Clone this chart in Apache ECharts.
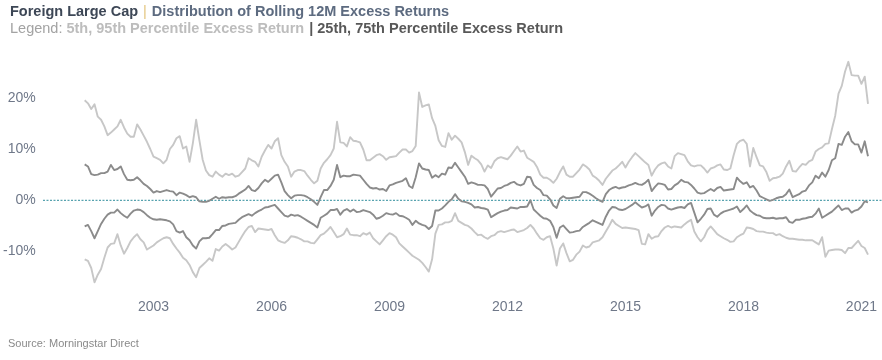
<!DOCTYPE html>
<html>
<head>
<meta charset="utf-8">
<script src="https://cdn.jsdelivr.net/npm/echarts@6/dist/echarts.min.js"></script>
<style>
html,body{margin:0;padding:0;background:#fff;}
#chart{width:882px;height:360px;}
</style>
</head>
<body>
<div id="chart"></div>
<script>
// Monthly observations, starting April 2001
const startYear = 2001;
const startMonth = 4;
const pointCount = 240;
const months = Array.from({length: pointCount}, (_, k) => {
  const m = startMonth - 1 + k;
  return (startYear + Math.floor(m / 12)) + '-' + String(m % 12 + 1).padStart(2, '0');
});
const yearTicks = ['2003', '2006', '2009', '2012', '2015', '2018', '2021'];
const yTicks = [-10, 0, 10, 20];

// 95th percentile excess return (%)
const p95 = [
19.5,18.9,17.8,18.7,16.3,15.7,14.4,12.7,13.2,13.8,
14.4,15.7,14.2,13.0,12.4,12.4,14.8,13.8,12.6,11.4,
10.0,8.5,8.2,7.9,7.2,7.9,10.0,10.8,12.1,12.5,
10.1,10.5,7.5,11.1,15.7,11.7,7.9,5.8,4.9,4.6,
5.6,5.0,4.6,5.2,4.9,5.2,4.6,4.8,5.5,6.2,
8.2,7.8,7.5,6.6,8.5,9.7,10.8,10.1,11.5,12.1,
8.8,7.5,6.6,4.6,5.6,5.9,5.9,5.7,4.8,4.0,
3.3,3.8,6.2,7.3,8.0,8.8,10.1,15.3,11.3,11.2,
10.5,12.3,11.6,11.5,11.3,9.9,7.8,7.8,8.3,8.8,
9.0,8.6,7.9,8.4,8.5,8.6,9.3,9.9,9.9,9.3,
9.6,10.6,21.0,18.2,18.5,18.7,16.0,14.5,11.7,10.6,
10.4,13.1,11.8,12.6,12.0,11.3,9.4,6.9,8.7,8.2,
7.8,7.0,5.6,6.8,6.3,7.6,8.2,8.4,8.2,8.0,
8.7,9.6,10.5,9.5,9.7,8.3,7.9,7.5,6.5,5.0,
4.4,4.4,4.0,3.4,4.2,5.5,6.6,5.0,4.6,4.6,
5.3,6.0,7.0,6.6,6.0,4.8,4.4,3.8,3.0,4.2,
5.0,5.8,6.2,6.8,7.5,6.4,7.5,8.4,9.2,8.6,
8.0,7.4,6.9,4.8,6.0,6.8,7.2,7.4,6.6,6.2,
8.6,9.2,9.0,8.8,7.6,6.8,6.6,6.8,6.8,6.2,
5.4,6.2,6.4,6.8,7.0,6.0,5.9,6.2,8.8,11.0,
11.6,11.8,11.0,6.6,10.2,8.4,6.8,6.6,5.5,3.8,
4.3,4.4,4.6,5.2,6.6,7.7,5.7,5.6,6.4,7.1,
6.9,7.6,7.9,9.5,10.0,10.3,11.0,11.1,13.9,16.5,
20.8,22.3,25.1,27.0,24.4,24.3,24.3,22.7,24.1,18.8
];

// 75th percentile excess return (%)
const p75 = [
7.0,6.6,5.1,4.9,5.0,5.3,5.3,5.6,6.9,5.9,
6.1,6.6,5.1,4.0,3.9,4.0,4.5,3.9,3.2,2.8,
2.2,1.5,1.8,1.6,1.8,2.0,1.8,1.7,1.0,1.5,
1.3,1.0,0.6,0.8,0.6,-0.2,-0.3,-0.3,-0.1,0.3,
0.7,0.3,0.6,0.5,0.6,0.6,0.8,1.3,1.7,2.1,
2.8,2.0,1.8,2.4,3.3,4.0,3.6,4.2,4.8,5.0,
3.5,1.8,1.0,0.4,0.9,1.0,1.0,0.9,0.6,0.2,
-0.3,-0.9,0.6,2.0,2.0,2.8,4.0,6.9,4.5,4.8,
4.7,4.7,5.0,4.9,4.8,4.0,3.2,2.5,2.3,2.4,
2.1,2.2,1.8,2.9,3.1,3.4,3.6,3.8,4.3,2.8,
2.4,4.5,7.2,6.2,6.0,5.9,4.4,4.9,4.5,5.2,
5.0,6.4,6.3,7.3,6.4,5.5,4.6,3.2,3.5,3.3,
3.0,3.0,2.9,2.2,0.7,1.5,2.3,2.4,2.8,3.0,
3.4,3.6,3.1,2.9,3.2,4.6,4.5,3.0,2.4,2.0,
1.0,0.9,0.2,-1.0,-1.5,0.3,0.8,0.4,0.4,0.5,
0.6,0.7,1.6,1.6,1.3,0.9,0.4,0.0,-0.3,1.2,
2.0,2.4,2.6,2.3,2.5,2.6,2.9,3.1,3.4,3.1,
3.0,3.4,4.0,1.8,2.6,3.3,3.2,3.0,2.1,2.2,
2.9,3.3,4.0,3.6,3.5,3.0,2.3,1.5,1.3,1.4,
1.8,2.2,1.8,2.4,2.6,1.9,2.0,2.1,2.2,4.4,
3.7,3.2,3.5,2.5,2.8,1.9,0.8,0.5,0.2,-0.1,
0.1,0.4,0.6,0.7,1.2,2.1,0.6,0.9,1.2,1.7,
1.9,2.9,3.5,4.8,4.3,5.4,4.6,5.9,7.8,8.2,
11.0,10.8,12.4,13.3,11.5,10.9,10.9,9.3,11.5,8.6
];

// 25th percentile excess return (%)
const p25 = [
-5.1,-4.8,-6.0,-7.4,-6.0,-4.6,-3.6,-2.8,-2.4,-2.4,
-1.8,-2.5,-3.0,-3.4,-2.6,-2.0,-1.8,-1.9,-2.3,-2.9,
-3.4,-3.7,-3.8,-3.7,-3.8,-3.9,-4.1,-4.7,-6.0,-6.3,
-6.0,-7.2,-7.8,-8.8,-9.4,-8.0,-7.4,-7.4,-7.3,-6.6,
-5.8,-5.8,-5.0,-4.9,-4.6,-4.5,-4.4,-3.8,-3.3,-3.0,
-2.7,-3.0,-2.5,-2.1,-1.8,-1.4,-1.3,-1.1,-0.9,-1.6,
-2.3,-3.0,-3.2,-2.8,-3.0,-2.9,-3.2,-3.6,-4.0,-4.4,
-4.8,-5.3,-3.4,-3.0,-2.6,-1.9,-1.9,-1.7,-2.8,-2.0,
-1.7,-2.2,-1.8,-2.3,-2.2,-1.9,-2.1,-2.3,-2.8,-3.6,
-3.4,-3.0,-2.5,-2.7,-2.8,-2.5,-3.0,-3.1,-3.4,-3.8,
-4.8,-4.0,-4.5,-4.8,-5.0,-5.6,-5.0,-2.0,-2.0,-1.6,
-1.0,-0.3,0.2,1.2,0.3,-0.2,-0.3,-0.5,-0.8,-1.4,
-1.3,-1.5,-1.6,-1.8,-3.3,-2.9,-2.5,-2.2,-2.0,-1.9,
-1.4,-1.5,-1.6,-1.3,-1.3,-1.2,0.0,-1.8,-2.4,-3.0,
-3.5,-3.6,-4.0,-5.2,-7.3,-5.3,-4.9,-5.6,-6.3,-6.2,
-6.0,-5.9,-5.2,-4.8,-4.4,-3.9,-4.2,-4.5,-4.8,-3.2,
-2.0,-1.3,-1.4,-1.8,-1.9,-1.7,-1.3,-0.9,-0.4,-0.9,
-1.4,-1.2,-0.8,-3.0,-2.0,-1.3,-0.9,-1.0,-1.6,-1.8,
-1.6,-1.4,-1.3,-1.5,-0.8,-0.5,-2.4,-4.3,-3.6,-2.8,
-1.7,-1.6,-2.8,-3.2,-2.6,-2.2,-2.0,-1.8,-1.6,-1.2,
-2.3,-1.7,-1.0,-2.0,-2.5,-2.9,-3.0,-3.4,-3.5,-3.5,
-3.4,-3.6,-3.5,-3.5,-3.3,-4.2,-4.4,-3.8,-3.8,-3.6,
-3.5,-3.3,-3.2,-2.6,-1.6,-3.4,-3.0,-2.6,-2.2,-1.6,
-1.0,-1.9,-1.6,-1.6,-2.4,-2.0,-1.8,-1.2,-0.2,-0.4
];

// 5th percentile excess return (%)
const p5 = [
-11.5,-11.8,-13.2,-16.0,-14.5,-13.4,-11.2,-9.2,-8.5,-8.4,
-6.6,-8.8,-10.4,-9.3,-8.0,-7.2,-6.6,-7.6,-8.2,-9.6,
-9.2,-8.8,-8.2,-7.8,-7.4,-7.2,-7.4,-8.5,-9.4,-10.2,
-11.2,-11.7,-12.6,-14.0,-15.0,-13.2,-12.6,-12.0,-11.3,-11.8,
-9.5,-9.8,-9.0,-8.5,-9.0,-9.6,-9.2,-8.1,-7.0,-6.0,
-5.2,-5.0,-6.2,-5.5,-5.6,-5.7,-5.8,-5.6,-6.8,-7.8,
-8.1,-8.3,-7.8,-7.0,-7.1,-7.3,-7.6,-8.0,-8.0,-8.3,
-8.4,-7.6,-6.8,-6.5,-5.9,-5.2,-6.2,-7.2,-7.0,-6.6,
-5.5,-6.7,-6.8,-6.8,-7.0,-6.4,-6.7,-6.3,-7.4,-8.0,
-8.6,-7.8,-7.0,-6.4,-6.7,-7.2,-8.4,-9.0,-9.6,-10.2,
-10.8,-11.2,-11.6,-12.2,-13.0,-13.9,-11.5,-6.5,-4.8,-4.7,
-4.3,-4.3,-4.0,-2.5,-4.0,-4.4,-4.8,-5.0,-5.5,-6.2,
-6.8,-6.7,-7.2,-7.5,-7.0,-6.8,-6.2,-6.0,-6.2,-6.0,
-5.8,-5.7,-6.2,-6.0,-5.8,-5.4,-4.8,-5.5,-6.5,-7.4,
-7.7,-7.2,-7.0,-9.4,-12.7,-9.4,-8.4,-10.3,-11.9,-11.6,
-10.6,-10.0,-8.8,-9.2,-9.0,-8.2,-8.0,-7.8,-7.2,-6.1,
-5.0,-3.8,-4.6,-5.0,-5.4,-5.3,-5.4,-5.5,-5.6,-5.8,
-8.5,-8.6,-6.6,-7.5,-7.1,-7.0,-6.0,-5.3,-5.0,-5.3,
-5.1,-5.2,-5.3,-4.7,-4.2,-3.8,-6.1,-7.2,-8.0,-7.2,
-5.8,-5.1,-5.8,-6.6,-7.0,-7.4,-7.7,-8.1,-8.0,-7.2,
-6.8,-6.5,-5.3,-5.4,-5.6,-6.0,-6.1,-6.1,-6.3,-6.4,
-6.4,-6.8,-6.6,-7.0,-7.3,-7.5,-7.5,-7.6,-7.7,-7.7,
-7.8,-7.8,-7.8,-8.2,-8.6,-7.2,-11.0,-9.8,-9.7,-9.6,
-9.6,-9.7,-10.3,-9.3,-9.3,-8.6,-7.9,-8.9,-9.3,-10.6
];

const zeroLine = [[0, 0], [1, 0]];

const lightColor = '#c7c7c7';
const darkColor = '#8b8b8b';
const labelColor = '#6f7889';
const fontFamily = '"Liberation Sans", Arial, sans-serif';

const chart = echarts.init(document.getElementById('chart'), null, {renderer: 'canvas'});

function lineSeries(name, data, color, z) {
  return {
    name: name, type: 'line', data: data, xAxisIndex: 0, yAxisIndex: 0,
    showSymbol: false, symbol: 'none', smooth: false, z: z,
    lineStyle: {color: color, width: 1.9, join: 'round'},
    emphasis: {disabled: true}, silent: true, animation: false
  };
}

const gridTop = 46.4, gridBottom = 57.1;

chart.setOption({
  backgroundColor: '#ffffff',
  animation: false,
  textStyle: {fontFamily: fontFamily},
  title: [
    {
      left: 5, top: -2,
      text: '{a|Foreign Large Cap} {b||} {c|Distribution of Rolling 12M Excess Returns}',
      textStyle: {
        rich: {
          a: {fontSize: 14.5, fontWeight: 'bold', color: '#3d4756', fontFamily: fontFamily},
          b: {fontSize: 14.5, fontWeight: 'normal', color: '#e3c57e', fontFamily: fontFamily},
          c: {fontSize: 14.5, fontWeight: 'bold', color: '#5d6b80', fontFamily: fontFamily}
        }
      }
    },
    {
      left: 5, top: 15,
      text: '{a|Legend: }{b|5th, 95th Percentile Excess Return} {c|| 25th, 75th Percentile Excess Return}',
      textStyle: {
        rich: {
          a: {fontSize: 14.5, fontWeight: 'normal', color: '#a3a3a3', fontFamily: fontFamily},
          b: {fontSize: 14.5, fontWeight: 'bold', color: '#bdbdbd', fontFamily: fontFamily},
          c: {fontSize: 14.5, fontWeight: 'bold', color: '#585858', fontFamily: fontFamily}
        }
      }
    },
    {
      left: 3, top: 333,
      text: 'Source: Morningstar Direct',
      textStyle: {fontSize: 11, fontWeight: 'normal', color: '#8a8a8a', fontFamily: fontFamily}
    }
  ],
  grid: [
    {left: 84, right: 14, top: gridTop, bottom: gridBottom, containLabel: false},
    {left: 43, right: 0, top: gridTop, bottom: gridBottom, containLabel: false}
  ],
  xAxis: [
    {
      type: 'category', gridIndex: 0, data: months, boundaryGap: false,
      axisLine: {show: false}, axisTick: {show: false}, splitLine: {show: false},
      axisLabel: {
        color: labelColor, fontSize: 14, fontFamily: fontFamily, margin: -3,
        interval: function (idx, val) {
          return val.slice(5) === '01' && yearTicks.indexOf(val.slice(0, 4)) >= 0;
        },
        formatter: function (val) { return val.slice(0, 4); }
      }
    },
    {type: 'value', gridIndex: 1, min: 0, max: 1, show: false}
  ],
  yAxis: [
    {
      type: 'value', gridIndex: 0, min: -20, max: 30, interval: 10,
      axisLine: {show: false}, axisTick: {show: false}, splitLine: {show: false},
      axisLabel: {
        color: labelColor, fontSize: 14, fontFamily: fontFamily, margin: 49,
        padding: [0, 0, 3, 0],
        formatter: function (v) { return yTicks.indexOf(v) >= 0 ? v + '%' : ''; }
      }
    },
    {type: 'value', gridIndex: 1, min: -20, max: 30, show: false}
  ],
  series: [
    {
      name: 'zero', type: 'line', data: zeroLine, xAxisIndex: 1, yAxisIndex: 1,
      showSymbol: false, symbol: 'none', silent: true, z: 1,
      lineStyle: {color: '#2f8c9c', width: 1, type: [2, 1.5]}
    },
    lineSeries('5th Percentile', p5, lightColor, 2),
    lineSeries('95th Percentile', p95, lightColor, 2),
    lineSeries('25th Percentile', p25, darkColor, 3),
    lineSeries('75th Percentile', p75, darkColor, 3)
  ]
});
</script>
</body>
</html>
